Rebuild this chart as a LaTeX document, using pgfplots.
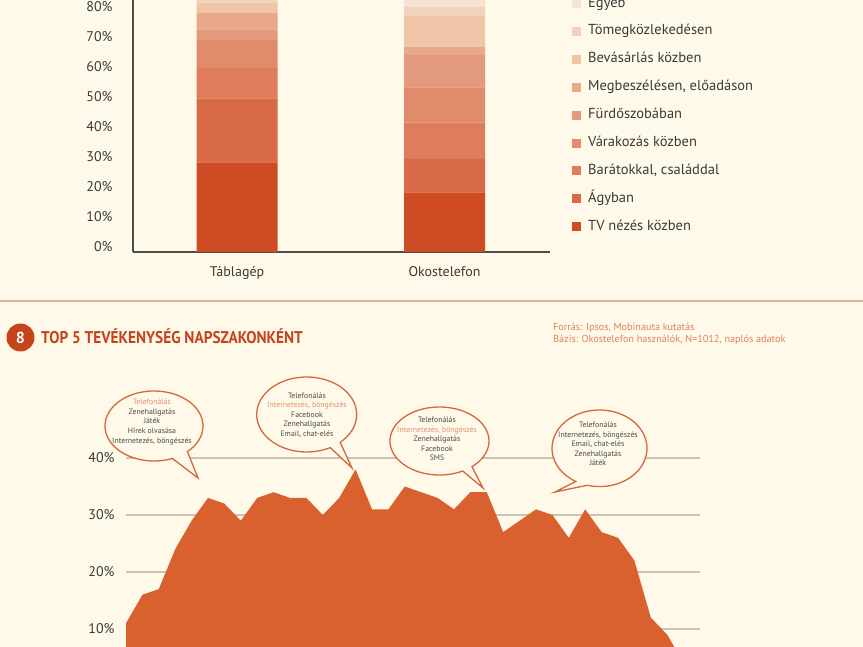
\documentclass[border=0pt]{standalone}
\usepackage{pgfplots}
\pgfplotsset{compat=1.18}
\usepackage{fontspec}
\setmainfont{PT Sans}
\definecolor{bg}{HTML}{FEF9E8}
\definecolor{axisgray}{HTML}{4D4D45}
\definecolor{ticktext}{HTML}{3A3A38}
\definecolor{gridgray}{HTML}{C9C5B5}
\definecolor{cTV}{HTML}{CF4B23}
\definecolor{cAgy}{HTML}{D96A48}
\definecolor{cBar}{HTML}{DE7C5B}
\definecolor{cVar}{HTML}{E08B6B}
\definecolor{cFur}{HTML}{E39A7C}
\definecolor{cMeg}{HTML}{E9A88C}
\definecolor{cBev}{HTML}{EFC4A7}
\definecolor{cTom}{HTML}{F2D2BC}
\definecolor{cEgy}{HTML}{F6E4D2}
\definecolor{areaor}{HTML}{D8612F}
\definecolor{bubline}{HTML}{D2693F}
\definecolor{hl}{HTML}{E58F72}
\definecolor{bubtext}{HTML}{4A4A46}
\definecolor{titlecol}{HTML}{C6441C}
\definecolor{srccol}{HTML}{E0825C}
\definecolor{sepcol}{HTML}{D9B597}
\newcommand{\bubble}[7]{%
  \draw[bubline, line width=1.3pt, fill=bg] (#1pt,#2pt) ++(#6:#3pt and #4pt)
    arc[start angle=#6, end angle=#5+360, x radius=#3pt, y radius=#4pt] -- #7 -- cycle;}
\begin{document}
\begin{tikzpicture}[x=1pt,y=1pt]
\useasboundingbox (0,0) rectangle (863,647);
\fill[bg] (0,0) rectangle (863,647);
\begin{scope}
\clip (0,0) rectangle (863,647);
% ---------- top stacked bar chart ----------
\begin{axis}[
  at={(133pt,395pt)}, anchor=south west,
  scale only axis, width=417pt, height=300pt,
  xmin=0, xmax=417, ymin=0, ymax=100,
  ybar stacked, bar width=81,
  axis x line=bottom, axis y line=left,
  axis line style={-, line width=1.4pt, color=axisgray},
  major tick length=0pt,
  xtick={104,311.5}, xticklabels={Táblagép,Okostelefon},
  ytick={0,10,20,30,40,50,60,70,80},
  yticklabels={0\%,10\%,20\%,30\%,40\%,50\%,60\%,70\%,80\%},
  tick label style={font=\fontsize{14}{16}\selectfont, text=ticktext},
  yticklabel style={xshift=-17pt, yshift=5pt},
  xticklabel style={yshift=-11pt},
  reverse legend,
  legend cell align=left,
  legend style={at={(1.0528,0.857)}, anchor=north west, draw=none, fill=none,
    inner sep=0pt, row sep=10.9pt, column sep=5pt,
    font=\fontsize{14.5}{16}\selectfont, text=ticktext,
    nodes={inner sep=2pt, text height=10pt, text depth=3pt}},
  legend image code/.code={\fill[#1] (0pt,-4.5pt) rectangle (9pt,4.5pt);},
]
\addplot[fill=cTV,draw=none]  coordinates {(104,29.9) (311.5,19.9)};
\addlegendentry{TV nézés közben}
\addplot[fill=cAgy,draw=none] coordinates {(104,21.3) (311.5,11.1)};
\addlegendentry{Ágyban}
\addplot[fill=cBar,draw=none] coordinates {(104,10.1) (311.5,12.1)};
\addlegendentry{Barátokkal, családdal}
\addplot[fill=cVar,draw=none] coordinates {(104,9.4) (311.5,11.8)};
\addlegendentry{Várakozás közben}
\addplot[fill=cFur,draw=none] coordinates {(104,3.5) (311.5,10.8)};
\addlegendentry{Fürdőszobában}
\addplot[fill=cMeg,draw=none] coordinates {(104,5.4) (311.5,2.6)};
\addlegendentry{Megbeszélésen, előadáson}
\addplot[fill=cBev,draw=none] coordinates {(104,3.5) (311.5,10.5)};
\addlegendentry{Bevásárlás közben}
\addplot[fill=cTom,draw=none] coordinates {(104,7.0) (311.5,2.8)};
\addlegendentry{Tömegközlekedésen}
\addplot[fill=cEgy,draw=none] coordinates {(104,9.9) (311.5,18.4)};
\addlegendentry{Egyéb}
\end{axis}
% ---------- separator and title ----------
\draw[sepcol, line width=2pt] (0,346) -- (863,346);
\fill[titlecol] (20.5,309.5) circle (14pt);
\node[text=white, font=\fontsize{16}{18}\selectfont\bfseries] at (20.5,309.5) {8};
\node[anchor=west, inner sep=0pt, text=titlecol, font=\fontsize{17}{19}\selectfont\bfseries] at (41,311)
  {\scalebox{0.9}[1]{TOP 5 TEVÉKENYSÉG NAPSZAKONKÉNT}};
\node[anchor=base west, inner sep=0pt, text=srccol, font=\fontsize{10.2}{11}\selectfont] at (553,316) {Forrás: Ipsos, Mobinauta kutatás};
\node[anchor=base west, inner sep=0pt, text=srccol, font=\fontsize{10.2}{11}\selectfont] at (553,304) {Bázis: Okostelefon használók, N=1012, naplós adatok};
% ---------- bottom area chart ----------
\begin{axis}[
  at={(126pt,-39pt)}, anchor=south west,
  scale only axis, width=574pt, height=228pt,
  xmin=0, xmax=35, ymin=0, ymax=40,
  axis line style={draw=none},
  major tick length=0pt,
  xtick=\empty,
  ytick={10,20,30,40}, yticklabels={10\%,20\%,30\%,40\%},
  ymajorgrids, grid style={line width=1.2pt, color=gridgray},
  tick label style={font=\fontsize{14}{16}\selectfont, text=ticktext},
  yticklabel style={xshift=-8pt},
]
\addplot[fill=areaor, draw=none] coordinates {
(0,11) (1,16) (2,17) (3,24) (4,29) (5,33) (6,32) (7,29) (8,33) (9,34)
(10,33) (11,33) (12,30) (13,33) (14,38) (15,31) (16,31) (17,35) (18,34) (19,33)
(20,31) (21,34) (22,34) (23,27) (24,29) (25,31) (26,30) (27,26) (28,31) (29,27)
(30,26) (31,22) (32,12) (33,9) (34,4)} \closedcycle;
\end{axis}
% ---------- speech bubbles ----------
\bubble{154}{221}{49}{35}{-68}{-47}{(198,169)}
\bubble{306.7}{232.5}{50}{37.5}{-62}{-48}{(352,179)}
\bubble{439.5}{206}{49.5}{34}{-62}{-49}{(483,159)}
\bubble{599.5}{198.7}{47.5}{38.3}{-120}{-105}{(555,155)}
\begin{scope}[every node/.style={align=center, inner sep=0pt, text=bubtext, font=\fontsize{7.8}{9.6}\selectfont}]
\node at (152,225) {\textcolor{hl}{Telefonálás}\\Zenehallgatás\\Játék\\Hírek olvasása\\Internetezés, böngészés};
\node at (307,232) {Telefonálás\\\textcolor{hl}{Internetezés, böngészés}\\Facebook\\Zenehallgatás\\Email, chat-elés};
\node at (437,208) {Telefonálás\\\textcolor{hl}{Internetezés, böngészés}\\Zenehallgatás\\Facebook\\SMS};
\node at (598,203) {Telefonálás\\Internetezés, böngészés\\Email, chat-elés\\Zenehallgatás\\Játék};
\end{scope}
\end{scope}
\end{tikzpicture}
\end{document}
